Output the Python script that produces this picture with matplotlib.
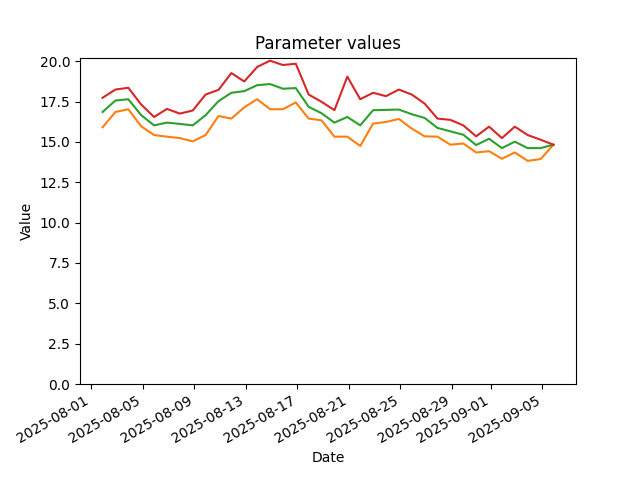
import matplotlib
matplotlib.use('Agg')
import matplotlib.pyplot as plt
import numpy as np
import pandas as pd

# ----------------------------------------------------------------------------------------------------------------------
# data (last date has no values, it only widens the x range)

dates = pd.date_range('2025-08-01 21:00', periods = 37, freq = 'D')

upper = [17.74, 18.25, 18.36, 17.32, 16.55, 17.05, 16.76, 16.95, 17.94, 18.23,
         19.27, 18.75, 19.65, 20.04, 19.77, 19.85, 17.94, 17.49, 16.97, 19.05,
         17.65, 18.05, 17.84, 18.25, 17.94, 17.38, 16.45, 16.37, 16.03, 15.35,
         15.95, 15.24, 15.95, 15.43, 15.14, 14.83, np.nan]

middle = [16.86, 17.57, 17.65, 16.66, 16.03, 16.20, 16.12, 16.03, 16.66, 17.53,
          18.05, 18.15, 18.52, 18.59, 18.30, 18.34, 17.18, 16.78, 16.20, 16.55,
          16.03, 16.97, 16.99, 17.01, 16.72, 16.49, 15.87, 15.66, 15.45, 14.81,
          15.20, 14.62, 15.02, 14.62, 14.62, 14.83, np.nan]

lower = [15.91, 16.86, 17.03, 15.97, 15.43, 15.33, 15.24, 15.04, 15.43, 16.61,
         16.45, 17.15, 17.65, 17.03, 17.03, 17.45, 16.45, 16.34, 15.33, 15.33,
         14.75, 16.14, 16.24, 16.43, 15.83, 15.35, 15.33, 14.83, 14.91, 14.35,
         14.43, 13.96, 14.35, 13.83, 13.94, 14.83, np.nan]

# ----------------------------------------------------------------------------------------------------------------------

fig, ax = plt.subplots(figsize = (6.4, 4.8), dpi = 100)

ax.plot(dates, lower,  color = 'tab:orange')
ax.plot(dates, middle, color = 'tab:green')
ax.plot(dates, upper,  color = 'tab:red')

ax.set_ylim(0, 20.23)
ax.set_title('Parameter values')
ax.set_xlabel('Date')
ax.set_ylabel('Value')
fig.autofmt_xdate()

fig.savefig('out.png')
